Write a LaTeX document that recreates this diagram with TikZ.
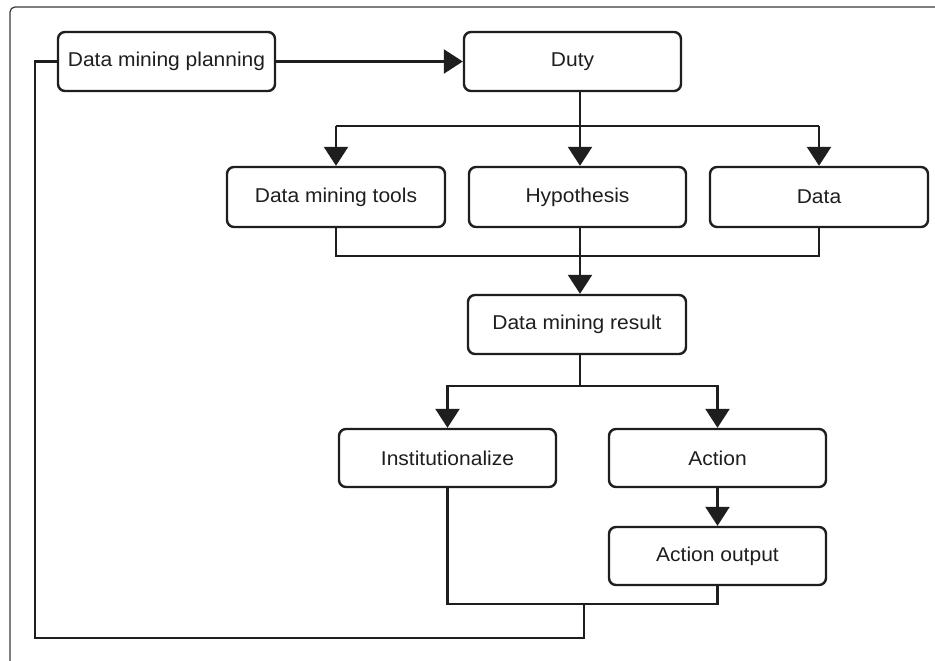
\documentclass[tikz,border=0pt]{standalone}
\usepackage{fontspec}
\setmainfont{Liberation Sans}[FakeStretch=1.05]
\usetikzlibrary{arrows.meta}
\definecolor{ink}{HTML}{1E1E1E}
\definecolor{framegray}{HTML}{3A3A3A}
\tikzset{
  stepbox/.style={draw=ink, line width=2.4pt, rounded corners=7pt, fill=white,
    minimum width=217pt, minimum height=59pt, inner sep=0pt,
    font=\fontsize{20}{24}\selectfont, text=ink},
  link/.style={draw=ink, line width=2.4pt},
  flow/.style={link, -{Triangle[length=19pt,width=24pt]}}
}
\begin{document}
\begin{tikzpicture}[x=1pt,y=-1pt]
  \useasboundingbox (0,0) rectangle (935,661);
  \clip (0,0) rectangle (935,661);
  \fill[white] (0,0) rectangle (935,661);
  % outer frame, open to the right and bottom
  \draw[framegray, line width=1.2pt, rounded corners=5pt] (10,700) |- (1000,7);

  % boxes
  \node[stepbox] (plan)   at (166.5,61.5) {Data mining planning};
  \node[stepbox] (duty)   at (572.5,61.5) {Duty};
  \node[stepbox, minimum width=218pt, minimum height=60pt] (tools) at (336,197) {Data mining tools};
  \node[stepbox, minimum height=60pt] (hyp)  at (577.5,197) {Hypothesis};
  \node[stepbox, minimum width=218pt, minimum height=60pt] (data) at (819,197) {Data};
  \node[stepbox, minimum width=218pt] (result) at (577,324.5) {Data mining result};
  \node[stepbox, minimum height=58pt] (inst)   at (447.5,458) {Institutionalize};
  \node[stepbox, minimum height=58pt] (action) at (717.5,458) {Action};
  \node[stepbox, minimum height=58pt] (output) at (717.5,556) {Action output};

  % junction points
  \coordinate (split) at (580,126);
  \coordinate (merge) at (580,256);
  \coordinate (fork)  at (580,386);
  \coordinate (join)  at (584,604);
  \coordinate (back)  at (35,638);

  % planning to duty
  \draw[flow] (plan.east) -- (duty.west);

  % duty splits into tools, hypothesis and data
  \draw[link] (duty.south -| split) -- (split);
  \draw[link] (tools.north |- split) -- (data.north |- split);
  \draw[flow] (tools.north |- split) -- (tools.north);
  \draw[flow] (split) -- (split |- hyp.north);
  \draw[flow] (data.north |- split) -- (data.north);

  % tools, hypothesis and data merge into the result
  \draw[link] (tools.south) |- (merge) -| (data.south);
  \draw[flow] (hyp.south -| merge) -- (merge |- result.north);

  % result splits into institutionalize and action
  \draw[link] (result.south -| fork) -- (fork);
  \draw[flow] (fork) -| (inst.north);
  \draw[flow] (fork) -| (action.north);

  % action to action output
  \draw[flow] (action.south) -- (output.north);

  % both outcomes feed back to planning
  \draw[link] (inst.south) |- (join) -| (output.south);
  \draw[link] (join) |- (back) |- (plan.west);
\end{tikzpicture}
\end{document}
